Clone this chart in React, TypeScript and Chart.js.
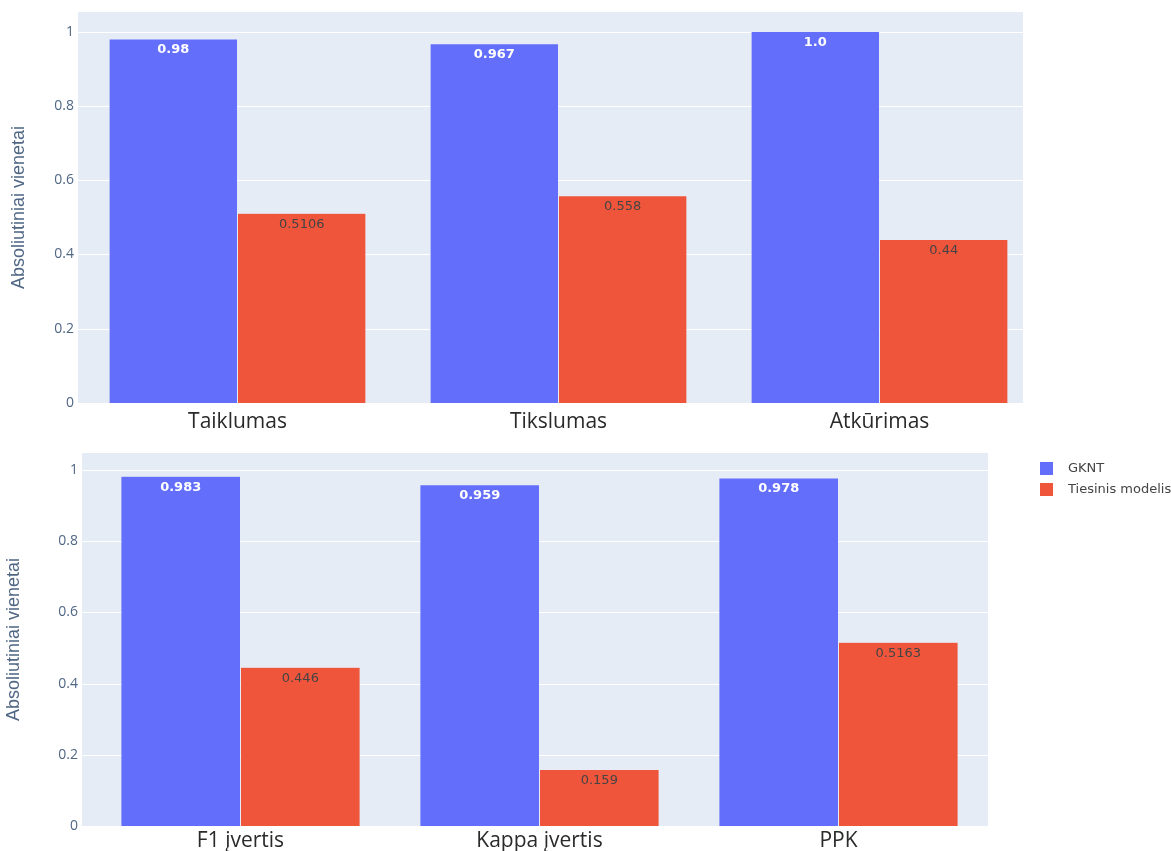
import React, { useEffect, useRef } from "react";
import { Chart, registerables } from "chart.js";

Chart.register(...registerables);

const seriesNames = ["GKNT", "Tiesinis modelis"];
const seriesColors = ["#636EFA", "#EF553B"];
const labelColors = ["#ffffff", "#444444"];

const topCategories = ["Taiklumas", "Tikslumas", "Atkūrimas"];
const topGknt = [0.98, 0.967, 1.0];
const topLinear = [0.5106, 0.558, 0.44];
const topGkntText = ["0.98", "0.967", "1.0"];
const topLinearText = ["0.5106", "0.558", "0.44"];

const bottomCategories = ["F1 įvertis", "Kappa įvertis", "PPK"];
const bottomGknt = [0.983, 0.959, 0.978];
const bottomLinear = [0.446, 0.159, 0.5163];
const bottomGkntText = ["0.983", "0.959", "0.978"];
const bottomLinearText = ["0.446", "0.159", "0.5163"];

const yTicks = [0, 0.2, 0.4, 0.6, 0.8, 1];
const yTitle = "Absoliutiniai vienetai";

const bgPlugin = {
  id: "plotBg",
  beforeDatasetsDraw(chart: any) {
    const { ctx, chartArea } = chart;
    const o = chart.options.plugins.plotBg;
    const left = chartArea.left + o.dl;
    const right = chartArea.right + o.dr;
    ctx.save();
    ctx.fillStyle = "#E5ECF6";
    ctx.fillRect(left, chartArea.top, right - left, chartArea.bottom - chartArea.top);
    ctx.strokeStyle = "#ffffff";
    ctx.lineWidth = 1;
    const ys = chart.scales.y;
    yTicks.forEach((v) => {
      if (v === 0) return;
      const y = Math.round(ys.getPixelForValue(v)) + 0.5;
      ctx.beginPath();
      ctx.moveTo(left, y);
      ctx.lineTo(right, y);
      ctx.stroke();
    });
    ctx.restore();
  },
};

const valueLabelPlugin = {
  id: "valueLabels",
  afterDatasetsDraw(chart: any) {
    const { ctx } = chart;
    const texts = chart.options.plugins.valueLabels.texts as string[][];
    ctx.save();
    ctx.textAlign = "center";
    ctx.textBaseline = "middle";
    chart.data.datasets.forEach((ds: any, di: number) => {
      const meta = chart.getDatasetMeta(di);
      ctx.font = (di === 0 ? "bold " : "") + "13px 'DejaVu Sans', Verdana, sans-serif";
      meta.data.forEach((el: any, i: number) => {
        ctx.fillStyle = labelColors[di];
        ctx.fillText(texts[di][i], el.x, el.y + 11);
      });
    });
    ctx.restore();
  },
};

const legendPlugin = {
  id: "sideLegend",
  afterDraw(chart: any) {
    const opts = chart.options.plugins.sideLegend;
    if (!opts || !opts.show) return;
    const { ctx } = chart;
    ctx.save();
    ctx.font = "13px 'DejaVu Sans', Verdana, sans-serif";
    ctx.textBaseline = "middle";
    ctx.textAlign = "left";
    chart.data.datasets.forEach((ds: any, di: number) => {
      const y = opts.y + di * 21;
      ctx.fillStyle = ds.backgroundColor;
      ctx.fillRect(opts.x, y - 6, 13, 13);
      ctx.fillStyle = "#444444";
      ctx.fillText(ds.label, opts.x + 28, y + 0.5);
    });
    ctx.restore();
  },
};

function makeConfig(p: any) {
  return {
    type: "bar" as const,
    data: {
      labels: p.categories,
      datasets: [
        { label: seriesNames[0], data: p.a, backgroundColor: seriesColors[0], borderColor: "#E5ECF6", borderWidth: 0.5 },
        { label: seriesNames[1], data: p.b, backgroundColor: seriesColors[1], borderColor: "#E5ECF6", borderWidth: 0.5 },
      ],
    },
    options: {
      responsive: false,
      animation: false as const,
      layout: { padding: { top: p.padTop, right: p.padRight, left: 0, bottom: 0 } },
      datasets: { bar: { categoryPercentage: 0.8, barPercentage: 1.0 } },
      plugins: {
        legend: { display: false },
        tooltip: { enabled: false },
        valueLabels: { texts: p.texts },
        sideLegend: p.legend,
        plotBg: { dl: p.bgDl, dr: p.bgDr },
      },
      scales: {
        x: {
          afterFit(scale: any) {
            scale.height = p.xHeight;
          },
          grid: { display: false, drawTicks: false },
          border: { display: false },
          ticks: {
            padding: p.xPad,
            maxRotation: 0,
            color: "#2a2a2a",
            font: { family: "'Open Sans', sans-serif", size: 21 },
          },
        },
        y: {
          min: 0,
          max: p.yMax,
          afterFit(scale: any) {
            scale.width = p.yWidth;
            scale.paddingTop = 0;
            scale.paddingBottom = 0;
          },
          afterBuildTicks(scale: any) {
            scale.ticks = yTicks.map((v) => ({ value: v }));
          },
          grid: { display: false, drawTicks: false },
          border: { display: false },
          ticks: {
            padding: p.yTickPad,
            color: "#506784",
            font: { family: "'Open Sans', sans-serif", size: 14 },
            callback: (v: any) => String(v),
          },
          title: {
            display: true,
            text: yTitle,
            color: "#506784",
            padding: { top: p.titlePad, bottom: 0 },
            font: { family: "'Liberation Sans', Arial, sans-serif", size: 18 },
          },
        },
      },
    },
    plugins: [bgPlugin, valueLabelPlugin, legendPlugin],
  };
}

function ChartCanvas({ config, width, height, top }: any) {
  const ref = useRef<HTMLCanvasElement>(null);
  useEffect(() => {
    const chart = new Chart(ref.current as HTMLCanvasElement, config as any);
    return () => chart.destroy();
  }, []);
  return (
    <canvas
      ref={ref}
      width={width}
      height={height}
      style={{ position: "absolute", left: 0, top, width, height, display: "block" }}
    />
  );
}

export default function App() {
  const topConfig = makeConfig({
    categories: topCategories, a: topGknt, b: topLinear, texts: [topGkntText, topLinearText],
    yMax: 1.0526, yWidth: 77, yTickPad: 3, titlePad: 8, padTop: 12, padRight: 131,
    xPad: 6, xHeight: 30, bgDl: 1, bgDr: -17, legend: { show: false },
  });
  const bottomConfig = makeConfig({
    categories: bottomCategories, a: bottomGknt, b: bottomLinear, texts: [bottomGkntText, bottomLinearText],
    yMax: 1.048, yWidth: 91, yTickPad: 13, titlePad: 3, padTop: 13, padRight: 183,
    xPad: 2, xHeight: 26, bgDl: -9, bgDr: 0, legend: { show: true, x: 1040, y: 28 },
  });
  return (
    <div style={{ position: "absolute", left: 0, top: 0, width: 1171, height: 851, background: "#fff", overflow: "hidden" }}>
      <ChartCanvas config={topConfig} width={1171} height={433} top={0} />
      <ChartCanvas config={bottomConfig} width={1171} height={412} top={440} />
    </div>
  );
}
